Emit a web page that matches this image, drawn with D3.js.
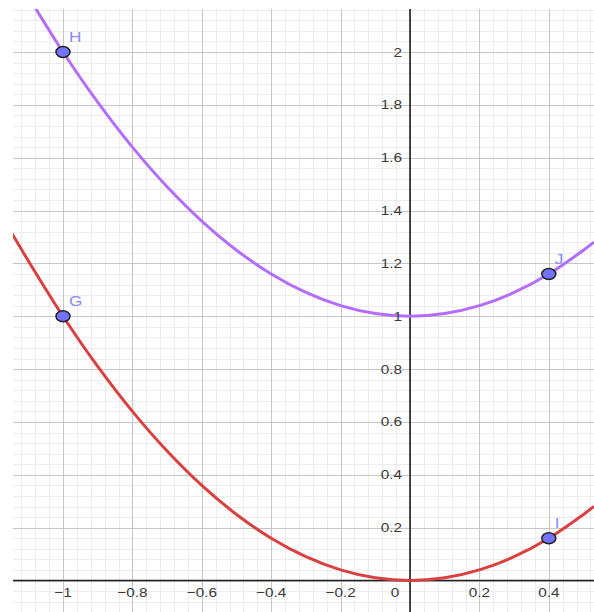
<!doctype html>
<html>
<head>
<meta charset="utf-8"/>
<title>Parabolas</title>
<script src="https://d3js.org/d3.v7.min.js"></script>
<style>
body { margin: 0; background: white; }
</style>
</head>
<body>
<svg id="svg1"></svg>
<script>
// values
const xs      = [-1.15, -1.1, -1.0, -0.9, -0.8, -0.7, -0.6, -0.5, -0.4, -0.3, -0.2, -0.1, 0, 0.1, 0.2, 0.3, 0.4, 0.5, 0.53]
const redY    = [1.32, 1.21, 1.00, 0.81, 0.64, 0.49, 0.36, 0.25, 0.16, 0.09, 0.04, 0.01, 0, 0.01, 0.04, 0.09, 0.16, 0.25, 0.28]
const purpleY = [2.32, 2.21, 2.00, 1.81, 1.64, 1.49, 1.36, 1.25, 1.16, 1.09, 1.04, 1.01, 1.00, 1.01, 1.04, 1.09, 1.16, 1.25, 1.28]

const pointNames = ['H', 'G', 'J', 'I']
const pointX     = [-1, -1, 0.4, 0.4]
const pointY     = [2, 1, 1.16, 0.16]

const xTicks = [-1, -0.8, -0.6, -0.4, -0.2, 0.2, 0.4]
const yTicks = [0.2, 0.4, 0.6, 0.8, 1, 1.2, 1.4, 1.6, 1.8, 2]

const width = 594
const height = 612
const padLeft = 13, padTop = 9

const svg = d3.select('#svg1')
    .attr('width', width)
    .attr('height', height)

// 0 sits at x=410, y=580.5
const x = d3.scaleLinear().domain([0, 1]).range([410, 410 + 347])
const y = d3.scaleLinear().domain([0, 1]).range([580.5, 580.5 - 264.25])
const x0 = x.invert(padLeft), x1 = x.invert(width)
const y0 = y.invert(height), y1 = y.invert(padTop)

svg.append('clipPath').attr('id', 'clip')
    .append('rect').attr('x', padLeft).attr('y', padTop)
    .attr('width', width - padLeft).attr('height', height - padTop)

const g = svg.append('g').attr('clip-path', 'url(#clip)')

// minor grid
const minorX = d3.range(Math.ceil(x0 / 0.04) , Math.floor(x1 / 0.04) + 1).map(d => d * 0.04)
const minorY = d3.range(Math.ceil(y0 / 0.04), Math.floor(y1 / 0.04) + 1).map(d => d * 0.04)
g.selectAll('.mx').data(minorX).join('line')
    .attr('x1', d => Math.round(x(d)) + 0.5).attr('x2', d => Math.round(x(d)) + 0.5)
    .attr('y1', padTop).attr('y2', height)
    .style('stroke', '#ececec').style('stroke-width', 1)
g.selectAll('.my').data(minorY).join('line')
    .attr('y1', d => Math.round(y(d)) + 0.5).attr('y2', d => Math.round(y(d)) + 0.5)
    .attr('x1', padLeft).attr('x2', width)
    .style('stroke', '#ececec').style('stroke-width', 1)

// major grid
const majorX = d3.range(Math.ceil(x0 / 0.2), Math.floor(x1 / 0.2) + 1).map(d => d * 0.2)
const majorY = d3.range(Math.ceil(y0 / 0.2), Math.floor(y1 / 0.2) + 1).map(d => d * 0.2)
g.selectAll('.Mx').data(majorX).join('line')
    .attr('x1', d => Math.round(x(d)) + 0.5).attr('x2', d => Math.round(x(d)) + 0.5)
    .attr('y1', padTop).attr('y2', height)
    .style('stroke', '#c6c6c6').style('stroke-width', 1)
g.selectAll('.My').data(majorY).join('line')
    .attr('y1', d => Math.round(y(d)) + 0.5).attr('y2', d => Math.round(y(d)) + 0.5)
    .attr('x1', padLeft).attr('x2', width)
    .style('stroke', '#c6c6c6').style('stroke-width', 1)

// axes
g.append('line')
    .attr('x1', padLeft).attr('x2', width).attr('y1', y(0)).attr('y2', y(0))
    .style('stroke', '#222').style('stroke-width', 1.5)
g.append('line')
    .attr('x1', x(0)).attr('x2', x(0)).attr('y1', padTop).attr('y2', height)
    .style('stroke', '#111').style('stroke-width', 1.5)

const fmt = d => (d < 0 ? '\u2212' : '') + d3.format('~g')(Math.abs(d))

svg.selectAll('.xl').data(xTicks).join('text')
    .attr('transform', d => `translate(${x(d)},597) scale(1.18,1)`)
    .attr('text-anchor', 'middle')
    .style('font-family', 'Arial, "Liberation Sans", sans-serif')
    .style('font-size', '13px').style('fill', '#3a3a3a')
    .text(fmt)
svg.append('text')
    .attr('transform', `translate(${x(0) - 15},597) scale(1.18,1)`)
    .attr('text-anchor', 'middle')
    .style('font-family', 'Arial, "Liberation Sans", sans-serif')
    .style('font-size', '13px').style('fill', '#3a3a3a')
    .text('0')
svg.selectAll('.yl').data(yTicks).join('text')
    .attr('transform', d => `translate(${x(0) - 8},${y(d) + 4.5}) scale(1.18,1)`)
    .attr('text-anchor', 'end')
    .style('font-family', 'Arial, "Liberation Sans", sans-serif')
    .style('font-size', '13px').style('fill', '#3a3a3a')
    .text(fmt)

// curves
const line = d3.line().curve(d3.curveCatmullRom)
    .x(d => x(d[0])).y(d => y(d[1]))
g.append('path')
    .attr('d', line(d3.zip(xs, redY)))
    .style('fill', 'none').style('stroke', '#d9403f').style('stroke-width', 3)
g.append('path')
    .attr('d', line(d3.zip(xs, purpleY)))
    .style('fill', 'none').style('stroke', '#b36dff').style('stroke-width', 3)

// points
const pts = d3.zip(pointNames, pointX, pointY)
g.selectAll('.pt').data(pts).join('ellipse')
    .attr('cx', d => x(d[1])).attr('cy', d => y(d[2]))
    .attr('rx', 7).attr('ry', 5.5)
    .style('fill', '#7373ff').style('stroke', '#222').style('stroke-width', 1.5)
svg.selectAll('.pl').data(pts).join('text')
    .attr('transform', d => `translate(${x(d[1]) + 6},${y(d[2]) - 10}) scale(1.15,1)`)
    .style('font-family', 'Arial, "Liberation Sans", sans-serif')
    .style('font-size', '15px').style('fill', '#8a8aff')
    .text(d => d[0])
</script>
</body>
</html>
